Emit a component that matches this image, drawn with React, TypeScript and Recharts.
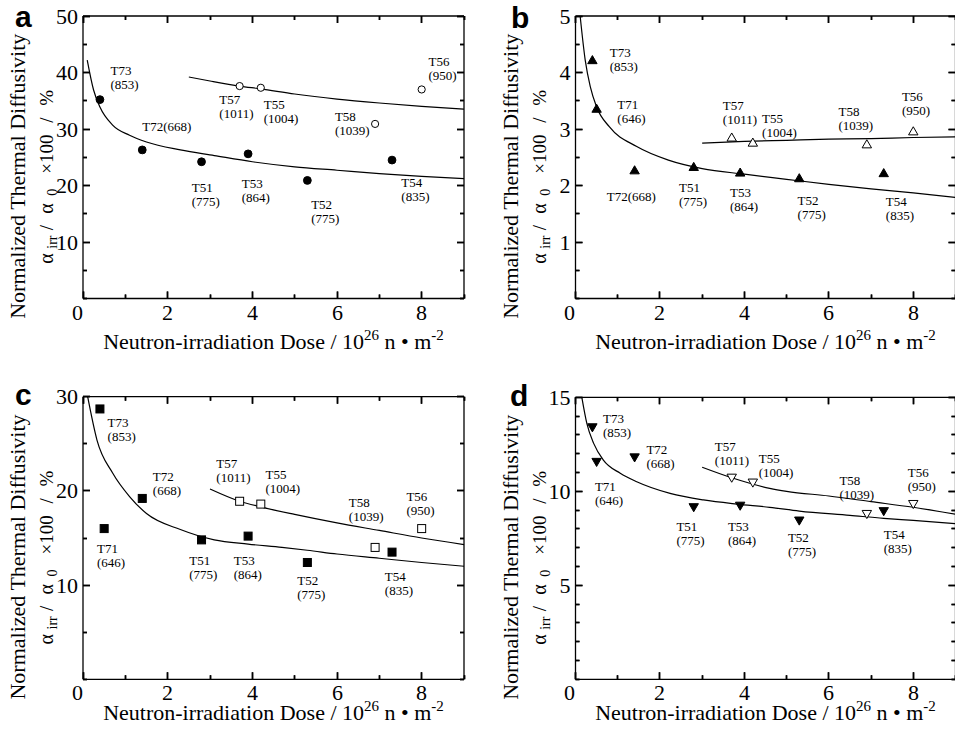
import React from 'react'
import { ScatterChart, Scatter, XAxis, YAxis } from 'recharts'

const SERIF = '"Liberation Serif", "Times New Roman", serif'

// capsules: dose in 10^26 n/m^2
const filledCaps = ['T73', 'T71', 'T72', 'T51', 'T53', 'T52', 'T54']
const filledDose = [0.4, 0.5, 1.4, 2.8, 3.9, 5.3, 7.3]
const openCaps = ['T57', 'T55', 'T58', 'T56']
const openDose = [3.7, 4.2, 6.9, 8.0]

// normalized values read per panel (null = not measured)
const aFilled = [35.2, null, 26.3, 24.2, 25.6, 20.9, 24.5]
const aOpen = [37.6, 37.3, 30.9, 37.0]
const bFilled = [4.22, 3.36, 2.27, 2.33, 2.23, 2.13, 2.22]
const bOpen = [2.85, 2.76, 2.73, 2.96]
const cFilled = [28.7, 16.0, 19.2, 14.8, 15.2, 12.4, 13.5]
const cOpen = [18.9, 18.6, 14.0, 16.0]
const dFilled = [13.4, 11.56, 11.8, 9.15, 9.23, 8.44, 8.94]
const dOpen = [10.72, 10.46, 8.79, 9.32]

// fitted curves [dose, value]
const fitLowA = [[0.1, 42.2], [0.25, 36.9], [0.4, 33.9], [0.7, 30.7], [1.1, 28.9], [1.5, 27.7], [2.3, 26.3], [3.1, 25.3], [4, 24.2], [5, 23.3], [6, 22.7], [7, 22.1], [8, 21.6], [9, 21.2]]
const fitHighA = [[2.5, 39.2], [3, 38.5], [3.7, 37.6], [4.2, 37.1], [5, 36.2], [6, 35.3], [7, 34.6], [8, 34.0], [9, 33.5]]
const fitLowB = [[0.11, 5.0], [0.23, 4.22], [0.35, 3.75], [0.5, 3.39], [0.8, 3.04], [1.45, 2.69], [2.2, 2.45], [3, 2.3], [4, 2.2], [5, 2.11], [6, 2.02], [7, 1.94], [8, 1.87], [9, 1.79]]
const fitHighB = [[3, 2.75], [4, 2.78], [5, 2.8], [6, 2.82], [7, 2.83], [8, 2.85], [9, 2.86]]
const fitLowC = [[0.11, 30], [0.33, 25.4], [0.7, 21.9], [1.1, 19.4], [1.5, 17.6], [2.3, 15.9], [3.1, 14.8], [3.9, 14.35], [4.7, 14.0], [5.3, 13.7], [6, 13.3], [7, 12.85], [8, 12.4], [9, 12.0]]
const fitHighC = [[3, 20.2], [3.7, 18.9], [4.2, 18.3], [5, 17.5], [6, 16.6], [7, 15.8], [8, 15.0], [9, 14.3]]
const fitLowD = [[0.15, 15.0], [0.27, 13.6], [0.43, 12.55], [0.66, 11.66], [1.06, 10.96], [1.45, 10.51], [2.24, 9.89], [3.03, 9.54], [3.82, 9.32], [4.6, 9.15], [5.3, 8.95], [6.5, 8.72], [7.3, 8.56], [8, 8.45], [9, 8.28]]
const fitHighD = [[3, 11.28], [3.7, 10.72], [4.6, 10.16], [5, 10.0], [6, 9.75], [7, 9.45], [8, 9.15], [9, 8.78]]

// tick values
const xTicks = [0, 1, 2, 3, 4, 5, 6, 7, 8, 9]
const xLabels = [0, 2, 4, 6, 8]
const yTicksA = [0, 5, 10, 15, 20, 25, 30, 35, 40, 45, 50]
const yLabelsA = [10, 20, 30, 40, 50]
const yTicksB = [0, 0.5, 1, 1.5, 2, 2.5, 3, 3.5, 4, 4.5, 5]
const yLabelsB = [1, 2, 3, 4, 5]
const yTicksC = [0, 5, 10, 15, 20, 25, 30]
const yLabelsC = [10, 20, 30]
const yTicksD = [0, 1, 2, 3, 4, 5, 6, 7, 8, 9, 10, 11, 12, 13, 14, 15]
const yLabelsD = [5, 10, 15]

// capsule annotations (name, irradiation temperature), anchored in data units
const labelsA = [
  { t: 'T73', n: '(853)', x: 0.65, y: 40.3 },
  { t: 'T72(668)', n: '', x: 1.4, y: 30.5 },
  { t: 'T57', n: '(1011)', x: 3.22, y: 35.3 },
  { t: 'T55', n: '(1004)', x: 4.27, y: 34.4 },
  { t: 'T58', n: '(1039)', x: 5.95, y: 32.3 },
  { t: 'T56', n: '(950)', x: 8.16, y: 42.0 },
  { t: 'T51', n: '(775)', x: 2.57, y: 19.6 },
  { t: 'T53', n: '(864)', x: 3.75, y: 20.4 },
  { t: 'T52', n: '(775)', x: 5.39, y: 16.6 },
  { t: 'T54', n: '(835)', x: 7.52, y: 20.5 },
]
const labelsB = [
  { t: 'T73', n: '(853)', x: 0.81, y: 4.35 },
  { t: 'T71', n: '(646)', x: 0.99, y: 3.44 },
  { t: 'T72(668)', n: '', x: 0.74, y: 1.8 },
  { t: 'T51', n: '(775)', x: 2.45, y: 1.96 },
  { t: 'T53', n: '(864)', x: 3.66, y: 1.88 },
  { t: 'T52', n: '(775)', x: 5.26, y: 1.74 },
  { t: 'T54', n: '(835)', x: 7.35, y: 1.71 },
  { t: 'T57', n: '(1011)', x: 3.49, y: 3.41 },
  { t: 'T55', n: '(1004)', x: 4.42, y: 3.18 },
  { t: 'T58', n: '(1039)', x: 6.23, y: 3.31 },
  { t: 'T56', n: '(950)', x: 7.73, y: 3.58 },
]
const labelsC = [
  { t: 'T73', n: '(853)', x: 0.58, y: 27.24 },
  { t: 'T71', n: '(646)', x: 0.33, y: 13.9 },
  { t: 'T72', n: '(668)', x: 1.65, y: 21.58 },
  { t: 'T51', n: '(775)', x: 2.51, y: 12.66 },
  { t: 'T53', n: '(864)', x: 3.56, y: 12.59 },
  { t: 'T52', n: '(775)', x: 5.06, y: 10.47 },
  { t: 'T54', n: '(835)', x: 7.13, y: 10.89 },
  { t: 'T57', n: '(1011)', x: 3.15, y: 22.93 },
  { t: 'T55', n: '(1004)', x: 4.31, y: 21.72 },
  { t: 'T58', n: '(1039)', x: 6.28, y: 18.75 },
  { t: 'T56', n: '(950)', x: 7.64, y: 19.38 },
]
const labelsD = [
  { t: 'T73', n: '(853)', x: 0.65, y: 13.88 },
  { t: 'T71', n: '(646)', x: 0.46, y: 10.25 },
  { t: 'T72', n: '(668)', x: 1.68, y: 12.2 },
  { t: 'T51', n: '(775)', x: 2.39, y: 8.15 },
  { t: 'T53', n: '(864)', x: 3.61, y: 8.15 },
  { t: 'T52', n: '(775)', x: 5.03, y: 7.55 },
  { t: 'T54', n: '(835)', x: 7.3, y: 7.71 },
  { t: 'T57', n: '(1011)', x: 3.3, y: 12.37 },
  { t: 'T55', n: '(1004)', x: 4.34, y: 11.76 },
  { t: 'T58', n: '(1039)', x: 6.25, y: 10.55 },
  { t: 'T56', n: '(950)', x: 7.87, y: 11.01 },
]

const toPoints = (dose: number[], vals: (number | null)[]) =>
  dose.map((x, i) => ({ x, y: vals[i], cap: i })).filter((p) => p.y !== null)

const toCurve = (pts: number[][]) => pts.map(([x, y]) => ({ x, y }))

const panels = [
  { id: 'a', left: 0, top: 0, pl: 83, pr: 464, pt: 16, pb: 298.5, yMax: 50, yTicks: yTicksA, yLabels: yLabelsA, kind: 'circle', filled: aFilled, open: aOpen, low: fitLowA, high: fitHighA, labels: labelsA, lx: 15, ly: 27, tb: 349 },
  { id: 'b', left: 478, top: 0, pl: 97.5, pr: 477.5, pt: 16, pb: 298.5, yMax: 5, yTicks: yTicksB, yLabels: yLabelsB, kind: 'up', filled: bFilled, open: bOpen, low: fitLowB, high: fitHighB, labels: labelsB, lx: 33, ly: 28, tb: 349 },
  { id: 'c', left: 0, top: 369, pl: 83, pr: 464, pt: 27.7, pb: 310.3, yMax: 30, yTicks: yTicksC, yLabels: yLabelsC, kind: 'square', filled: cFilled, open: cOpen, low: fitLowC, high: fitHighC, labels: labelsC, lx: 15, ly: 36, tb: 350.5 },
  { id: 'd', left: 478, top: 369, pl: 97.5, pr: 477.5, pt: 28.3, pb: 310.3, yMax: 15, yTicks: yTicksD, yLabels: yLabelsD, kind: 'down', filled: dFilled, open: dOpen, low: fitLowD, high: fitHighD, labels: labelsD, lx: 32, ly: 37, tb: 350.5 },
]

function Mark({ cx, cy, kind, open }: any) {
  const fill = open ? '#fff' : '#000'
  const common = { fill, stroke: '#000', strokeWidth: 1 }
  if (kind === 'circle') return <circle cx={cx} cy={cy} r={open ? 3.6 : 3.9} {...common} />
  if (kind === 'square') return <rect x={cx - 4} y={cy - 4} width={8} height={8} {...common} />
  if (kind === 'up')
    return <polygon points={`${cx},${cy - 4.5} ${cx + 4.7},${cy + 3.6} ${cx - 4.7},${cy + 3.6}`} {...common} />
  return <polygon points={`${cx},${cy + 4.5} ${cx + 4.7},${cy - 3.6} ${cx - 4.7},${cy - 3.6}`} {...common} />
}

function Tag({ cx, cy, payload }: any) {
  return (
    <text x={cx} y={cy + 4.5} fontFamily={SERIF} fontSize={13} fill="#000">
      <tspan x={cx}>{payload.t}</tspan>
      {payload.n && <tspan x={cx} dy={14}>{payload.n}</tspan>}
    </text>
  )
}

// snap to a pixel centre so the short ticks stay crisp
const crisp = (v: number) => Math.round(v - 0.5) + 0.5

function xTickPath(p: any, c: number, v: number) {
  const len = xLabels.includes(v) ? 7 : 4
  return `M${c},${p.pb}V${p.pb - len}M${c},${p.pt}V${p.pt + len}`
}
function yTickPath(p: any, c: number, v: number) {
  const len = p.yLabels.includes(v) ? 7 : 4
  return `M${p.pl},${c}H${p.pl + len}M${p.pr},${c}H${p.pr - len}`
}

// axis tick labels (and inward tick marks) from the axis scale
function xTick(p: any) {
  return (props: any) => {
    const c = crisp(props.payload.coordinate)
    const v = props.payload.value
    return (
      <g>
        <path d={xTickPath(p, c, v)} stroke="#000" strokeWidth={1.5} fill="none" />
        {xLabels.includes(v) && (
          <text x={v === 0 ? c - 6 : c} y={p.pb + 21} textAnchor="middle" fontFamily={SERIF} fontSize={22} fill="#000">
            {v}
          </text>
        )}
      </g>
    )
  }
}

function yTick(p: any) {
  return (props: any) => {
    const c = crisp(props.payload.coordinate)
    const v = props.payload.value
    return (
      <g>
        <path d={yTickPath(p, c, v)} stroke="#000" strokeWidth={1.5} fill="none" />
        {p.yLabels.includes(v) && (
          <text x={p.pl - 5} y={c + 7.5} textAnchor="end" fontFamily={SERIF} fontSize={22} fill="#000">
            {v}
          </text>
        )}
      </g>
    )
  }
}

const axisLine = { stroke: '#000', strokeWidth: 1.3 }

function Panel({ p }: any) {
  const W = 478
  const H = 369
  // axes get a 1px band, so the margins are one pixel smaller
  const margin = { left: p.pl - 1, right: W - p.pr - 1, top: p.pt - 1, bottom: H - p.pb - 1 }
  const filled = toPoints(filledDose, p.filled)
  const open = toPoints(openDose, p.open)
  const midY = (p.pt + p.pb) / 2 + 19
  const midX = (p.pl + p.pr) / 2
  return (
    <div style={{ position: 'absolute', left: p.left, top: p.top, width: W, height: H }}>
      <ScatterChart width={W} height={H} margin={margin}>
        <XAxis type="number" dataKey="x" domain={[0, 9]} ticks={xTicks} interval={0}
          height={1} axisLine={axisLine} tickLine={false} tick={xTick(p)} />
        <XAxis xAxisId="top" orientation="top" type="number" dataKey="x" domain={[0, 9]}
          height={1} axisLine={axisLine} tickLine={false} tick={false} />
        <YAxis type="number" dataKey="y" domain={[0, p.yMax]} ticks={p.yTicks} interval={0}
          width={1} axisLine={axisLine} tickLine={false} tick={yTick(p)} />
        <YAxis yAxisId="right" orientation="right" type="number" dataKey="y" domain={[0, p.yMax]}
          width={1} axisLine={axisLine} tickLine={false} tick={false} />
        <Scatter data={toCurve(p.low)} line={{ stroke: '#000', strokeWidth: 1.2 }} lineJointType="monotoneX"
          shape={() => <g />} isAnimationActive={false} />
        <Scatter data={toCurve(p.high)} line={{ stroke: '#000', strokeWidth: 1.2 }} lineJointType="monotoneX"
          shape={() => <g />} isAnimationActive={false} />
        <Scatter data={filled} shape={(s: any) => <Mark {...s} kind={p.kind} open={false} />} isAnimationActive={false} />
        <Scatter data={open} shape={(s: any) => <Mark {...s} kind={p.kind} open />} isAnimationActive={false} />
        <Scatter data={p.labels} shape={(s: any) => <Tag {...s} />} isAnimationActive={false} />
      </ScatterChart>
      <svg width={W} height={H} style={{ position: 'absolute', left: 0, top: 0, pointerEvents: 'none' }}>
        {/* tick marks repeated on top of the chart, at the same linear positions as the axes */}
        {xTicks.map((v) => (
          <path key={`x${v}`} d={xTickPath(p, crisp(p.pl + (v / 9) * (p.pr - p.pl)), v)} stroke="#000" strokeWidth={1.5} fill="none" />
        ))}
        {p.yTicks.map((v: number) => (
          <path key={`y${v}`} d={yTickPath(p, crisp(p.pb - (v / p.yMax) * (p.pb - p.pt)), v)} stroke="#000" strokeWidth={1.5} fill="none" />
        ))}
        <text x={p.lx} y={p.ly} fontFamily='"Liberation Sans", Arial, sans-serif' fontWeight="bold" fontSize={30} fill="#000">
          {p.id}
        </text>
        <g transform={`translate(${p.pl - 58},${midY}) rotate(-90)`}>
          <text x={0} y={0} textAnchor="middle" fontFamily={SERIF} fontSize={22} fill="#000">
            Normalized Thermal Diffusivity
          </text>
        </g>
        <g transform={`translate(${p.pl - 30},${midY}) rotate(-90)`} fontFamily={SERIF} fill="#000">
          <text x={-87.5} y={0} fontSize={20}>α</text>
          <text x={-72.5} y={4} fontSize={14}>irr</text>
          <text x={-54} y={0} fontSize={19}>/</text>
          <text x={-37.5} y={0} fontSize={20}>α</text>
          <text x={-19.5} y={4} fontSize={14}>0</text>
          <text x={2.5} y={0} fontSize={19}>×100</text>
          <text x={53.5} y={0} fontSize={19}>/</text>
          <text x={70.5} y={0} fontSize={19}>%</text>
        </g>
        <text x={midX} y={p.tb} textAnchor="middle" fontFamily={SERIF} fontSize={22} fill="#000">
          Neutron-irradiation Dose / 10
          <tspan dy={-9} fontSize={15}>26</tspan>
          <tspan dy={9}> n • m</tspan>
          <tspan dy={-9} fontSize={15}>-2</tspan>
        </text>
      </svg>
    </div>
  )
}

export default function App() {
  return (
    <div style={{ position: 'absolute', left: 0, top: 0, width: 955, height: 738, overflow: 'hidden', background: '#fff' }}>
      {panels.map((p) => (
        <Panel key={p.id} p={p} />
      ))}
    </div>
  )
}
